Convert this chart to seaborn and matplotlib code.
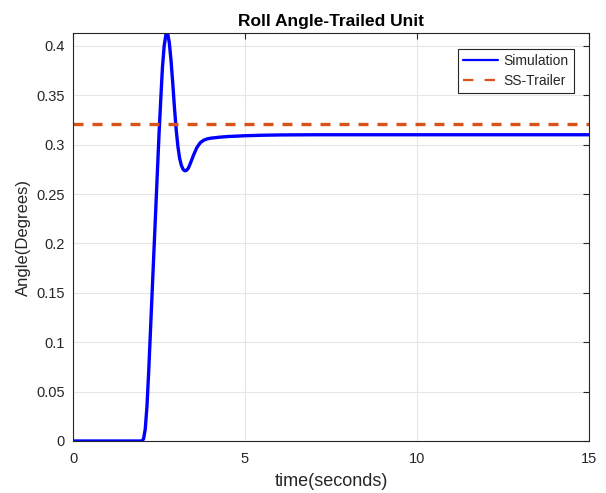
import matplotlib
matplotlib.use("Agg")
import matplotlib.pyplot as plt
import seaborn as sns
import pandas as pd

# Roll angle response of the trailed unit (simulation) and the steady-state trailer value
time_s = [0.0, 2.0, 2.05, 2.1, 2.15, 2.2, 2.25, 2.3, 2.35, 2.4, 2.45, 2.5, 2.55,
          2.6, 2.65, 2.7, 2.73, 2.76, 2.8, 2.85, 2.9, 2.95, 3.0, 3.05, 3.1, 3.15,
          3.2, 3.25, 3.3, 3.35, 3.4, 3.5, 3.6, 3.7, 3.8, 3.9, 4.0, 4.25, 4.5,
          5.0, 5.5, 6.0, 7.0, 15.0]
roll_deg = [0.0, 0.0, 0.002, 0.012, 0.035, 0.07, 0.11, 0.15, 0.19, 0.23, 0.27,
            0.31, 0.345, 0.378, 0.400, 0.411, 0.413, 0.411, 0.403, 0.385, 0.362,
            0.337, 0.315, 0.298, 0.286, 0.279, 0.275, 0.2735, 0.274, 0.276,
            0.280, 0.289, 0.297, 0.302, 0.3045, 0.3058, 0.3065, 0.3075, 0.3082,
            0.309, 0.3095, 0.3098, 0.31, 0.31]
ss_time = [0.0, 15.0]
ss_trailer = [0.321, 0.321]

sim = pd.DataFrame({"t": time_s, "angle": roll_deg})
ss = pd.DataFrame({"t": ss_time, "angle": ss_trailer})

sns.set_theme(style="white")
plt.rcParams["font.family"] = ["Liberation Sans", "DejaVu Sans"]

fig = plt.figure(figsize=(6.06, 4.93), dpi=100)
ax = fig.add_axes([73 / 606, 1 - 441 / 493, (589 - 73) / 606, (441 - 33) / 493])

sns.lineplot(data=sim, x="t", y="angle", ax=ax, color="#0000FF", lw=2.4,
             label="Simulation")
sns.lineplot(data=ss, x="t", y="angle", ax=ax, color="#D95319", lw=2.4,
             dashes=False, label="SS-Trailer")
ax.lines[1].set_dashes((3.0, 2.7))

ax.set_xlim(0, 15)
ax.set_ylim(0, max(roll_deg))
ax.set_xticks([0, 5, 10, 15])
ax.set_yticks([0, 0.05, 0.1, 0.15, 0.2, 0.25, 0.3, 0.35, 0.4])
ax.set_yticklabels(["0", "0.05", "0.1", "0.15", "0.2", "0.25", "0.3", "0.35", "0.4"])

ax.grid(True, color="#e6e6e6", lw=0.8)
ax.set_axisbelow(True)
for sp in ax.spines.values():
    sp.set_visible(True)
    sp.set_color("#262626")
    sp.set_linewidth(0.8)
ax.tick_params(direction="in", length=4, width=0.8, colors="#262626",
               labelsize=10.5, top=True, right=True, pad=6)
ax.tick_params(axis="x", pad=8)

ax.set_title("Roll Angle-Trailed Unit", fontsize=12.5, fontweight="bold",
             color="black", pad=5)
ax.set_xlabel("time(seconds)", fontsize=13, color="#262626", labelpad=5)
ax.set_ylabel("Angle(Degrees)", fontsize=12, color="#262626", labelpad=4)

leg = ax.legend(loc="upper right", bbox_to_anchor=(0.971, 0.962), fontsize=10,
                frameon=True, fancybox=False, handlelength=2.5,
                borderpad=0.4, labelspacing=0.42, handletextpad=0.4,
                borderaxespad=0.0)
leg.get_frame().set_edgecolor("#262626")
leg.get_frame().set_linewidth(0.8)
leg.get_frame().set_alpha(1.0)
for h in leg.get_lines():
    h.set_linewidth(1.6)
leg.get_lines()[1].set_dashes((4.7, 5.0))

fig.savefig("out.png", dpi=100)
